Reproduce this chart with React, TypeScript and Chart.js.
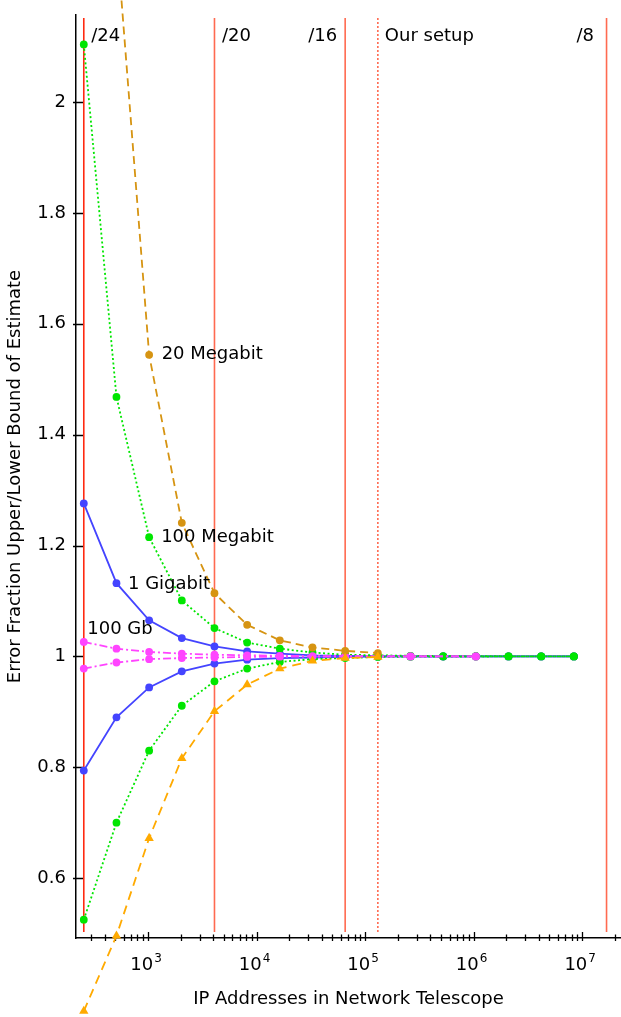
import React, { useEffect, useRef } from 'react';
import { Chart, registerables } from 'chart.js';

Chart.register(...registerables);

// ---- data ----
const addressCounts = [256, 512, 1024, 2048, 4096, 8192, 16384, 32768, 65536, 131072, 262144, 524288, 1048576, 2097152, 4194304, 8388608];

const upper20Mbit = [null, 2.3, 1.544, 1.241, 1.114, 1.057, 1.029, 1.016, 1.01, 1.006];
const lower20Mbit = [0.36, 0.496, 0.672, 0.816, 0.901, 0.949, 0.978, 0.992, 0.997, 0.999];
const upper100Mbit = [2.104, 1.468, 1.215, 1.101, 1.051, 1.025, 1.014, 1.007, 1.003, 1.002, 1.001, 1.0005, 1.0003, 1.0002, 1.0001, 1.0];
const lower100Mbit = [0.525, 0.7, 0.83, 0.911, 0.955, 0.978, 0.99, 0.995, 0.997, 0.999, 0.9995, 0.9997, 0.9998, 0.9999, 1.0, 1.0];
const upper1Gbit = [1.276, 1.132, 1.065, 1.033, 1.018, 1.009, 1.005, 1.002, 1.001, 1.0005, 1.0003, 1.0002, 1.0001, 1.0, 1.0, 1.0];
const lower1Gbit = [0.794, 0.89, 0.944, 0.973, 0.987, 0.994, 0.997, 0.998, 0.999, 0.9995, 0.9997, 0.9998, 0.9999, 1.0, 1.0, 1.0];
const upper100Gb = [1.026, 1.014, 1.008, 1.005, 1.003, 1.002, 1.001, 1.0005, 1.0003, null, 1.0001, null, 1.0];
const lower100Gb = [0.978, 0.989, 0.995, 0.997, 0.998, 0.999, 0.9995, 0.9997, 0.9998, null, 0.9999, null, 1.0];

const seriesLabels = ['20 Megabit', '100 Megabit', '1 Gigabit', '100 Gb'];

const markerValues = [256, 4096, 65536, 131072, 16777216];
const markerLabels = ['/24', '/20', '/16', 'Our setup', '/8'];

const xTickValues = [
  300, 400, 500, 600, 700, 800, 900,
  1000, 2000, 3000, 4000, 5000, 6000, 7000, 8000, 9000,
  10000, 20000, 30000, 40000, 50000, 60000, 70000, 80000, 90000,
  100000, 200000, 300000, 400000, 500000, 600000, 700000, 800000, 900000,
  1000000, 2000000, 3000000, 4000000, 5000000, 6000000, 7000000, 8000000, 9000000,
  10000000, 20000000,
];
const yTickValues = [0.6, 0.8, 1.0, 1.2, 1.4, 1.6, 1.8, 2.0];

const xTitle = 'IP Addresses in Network Telescope';
const yTitle = 'Error Fraction Upper/Lower Bound of Estimate';

// ---- styles ----
const FONT = "'DejaVu Sans', 'Liberation Sans', sans-serif";
const markerStyles = [
  { color: '#ff2a10', dash: [], side: 'right', gap: 7.5 },
  { color: '#ff6a50', dash: [], side: 'right', gap: 7.5 },
  { color: '#ff6a50', dash: [], side: 'left', gap: 8 },
  { color: '#ff6a50', dash: [2, 2], side: 'right', gap: 7 },
  { color: '#ff6a50', dash: [], side: 'left', gap: 12.5 },
];
// dataset index, point index, dx, dy for each series label
const seriesLabelAnchors = [
  { ds: 1, pt: 2, dx: 12.5, dy: 0 },
  { ds: 4, pt: 2, dx: 12, dy: 0 },
  { ds: 6, pt: 1, dx: 11.5, dy: 1 },
  { ds: 2, pt: 0, dx: 3.5, dy: -13 },
];

function exponentOf(v: number): number | null {
  const e = Math.log10(v);
  if (Math.abs(e - Math.round(e)) > 1e-9) return null;
  return Math.round(e);
}

function pts(arr: (number | null)[]) {
  return arr.map((y, i) => ({ x: addressCounts[i], y }));
}

const overlayPlugin = {
  id: 'overlay',
  beforeDatasetsDraw(chart: any) {
    const { ctx, chartArea } = chart;
    const xs = chart.scales.x;
    const ys = chart.scales.y;
    ctx.save();
    // tick marks
    ctx.strokeStyle = '#000';
    ctx.lineWidth = 1.3;
    ctx.beginPath();
    xTickValues.forEach((v) => {
      const px = Math.round(xs.getPixelForValue(v)) + 0.5;
      const major = exponentOf(v) !== null;
      ctx.moveTo(px, chartArea.bottom - (major ? 6 : 3.5));
      ctx.lineTo(px, chartArea.bottom + 3);
    });
    yTickValues.forEach((v) => {
      const py = Math.round(ys.getPixelForValue(v)) + 0.5;
      ctx.moveTo(chartArea.left - 3, py);
      ctx.lineTo(chartArea.left + 7, py);
    });
    ctx.stroke();
    // power-of-ten tick labels with raised exponent
    ctx.fillStyle = '#000';
    ctx.textBaseline = 'alphabetic';
    xTickValues.forEach((v) => {
      const e = exponentOf(v);
      if (e === null) return;
      const px = xs.getPixelForValue(v);
      ctx.font = `18px ${FONT}`;
      const wBase = ctx.measureText('10').width;
      ctx.font = `12px ${FONT}`;
      const wExp = ctx.measureText(String(e)).width;
      const start = px - (wBase + wExp + 1) / 2 - 2;
      const base = chartArea.bottom + 32;
      ctx.font = `18px ${FONT}`;
      ctx.textAlign = 'left';
      ctx.fillText('10', start, base);
      ctx.font = `12px ${FONT}`;
      ctx.fillText(String(e), start + wBase + 1, base - 8);
    });
    // vertical markers
    markerValues.forEach((v, i) => {
      const px = xs.getPixelForValue(v);
      const st = markerStyles[i];
      ctx.strokeStyle = st.color;
      ctx.lineWidth = 1.6;
      ctx.setLineDash(st.dash);
      ctx.beginPath();
      ctx.moveTo(px, chartArea.top + 3);
      ctx.lineTo(px, chartArea.bottom - 6);
      ctx.stroke();
      ctx.setLineDash([]);
      ctx.fillStyle = '#000';
      ctx.font = `18px ${FONT}`;
      ctx.textBaseline = 'middle';
      if (st.side === 'right') {
        ctx.textAlign = 'left';
        ctx.fillText(markerLabels[i], px + st.gap, chartArea.top + 21);
      } else {
        ctx.textAlign = 'right';
        ctx.fillText(markerLabels[i], px - st.gap, chartArea.top + 21);
      }
    });
    ctx.restore();
  },
  afterDatasetsDraw(chart: any) {
    const { ctx, chartArea } = chart;
    const big = { left: -1e5, top: -1e5, right: 1e5, bottom: 1e5 };
    // draw points lying outside the chart area (the library skips them)
    for (let d = chart.data.datasets.length - 1; d >= 0; d--) {
      const meta = chart.getDatasetMeta(d);
      meta.data.forEach((el: any) => {
        if (el.skip) return;
        if (el.y > chartArea.bottom + 3 || el.y < chartArea.top - 3) el.draw(ctx, big);
      });
    }
    ctx.save();
    ctx.fillStyle = '#000';
    ctx.font = `18px ${FONT}`;
    ctx.textAlign = 'left';
    ctx.textBaseline = 'middle';
    seriesLabelAnchors.forEach((a, i) => {
      const el = chart.getDatasetMeta(a.ds).data[a.pt];
      if (!el) return;
      ctx.fillText(seriesLabels[i], el.x + a.dx, el.y + a.dy);
    });
    ctx.restore();
  },
};

export default function App() {
  const ref = useRef<HTMLCanvasElement | null>(null);
  useEffect(() => {
    if (!ref.current) return;
    const common = { borderWidth: 1.8, pointRadius: 3.9, pointBorderWidth: 0, clip: false as any, spanGaps: true, tension: 0, fill: false };
    const chart = new Chart(ref.current, {
      type: 'line',
      data: {
        datasets: [
          { ...common, data: pts(lower20Mbit), borderColor: '#ffaa00', backgroundColor: '#ffaa00', borderDash: [9, 6], pointStyle: 'triangle', pointRadius: 5.4 },
          { ...common, data: pts(upper20Mbit), borderColor: '#d69412', backgroundColor: '#d69412', borderDash: [8, 5] },
          { ...common, data: pts(upper100Gb), borderColor: '#ff44ff', backgroundColor: '#ff44ff', borderDash: [8, 3, 2, 3] },
          { ...common, data: pts(lower100Gb), borderColor: '#ff44ff', backgroundColor: '#ff44ff', borderDash: [8, 3, 2, 3] },
          { ...common, data: pts(upper100Mbit), borderColor: '#00e600', backgroundColor: '#00e600', borderDash: [2, 2.5] },
          { ...common, data: pts(lower100Mbit), borderColor: '#00e600', backgroundColor: '#00e600', borderDash: [2, 2.5] },
          { ...common, data: pts(upper1Gbit), borderColor: '#4444ff', backgroundColor: '#4444ff' },
          { ...common, data: pts(lower1Gbit), borderColor: '#4444ff', backgroundColor: '#4444ff' },
        ],
      },
      options: {
        animation: false,
        responsive: true,
        maintainAspectRatio: false,
        layout: { autoPadding: false, padding: { top: 15, left: 0, right: 0, bottom: 0 } },
        plugins: { legend: { display: false }, tooltip: { enabled: false }, title: { display: false } },
        events: [],
        scales: {
          x: {
            type: 'logarithmic',
            min: 217,
            max: 2.28e7,
            bounds: 'data',
            grid: { display: false, drawTicks: false },
            border: { display: true, color: '#000', width: 1.5 },
            afterBuildTicks: (s: any) => { s.ticks = xTickValues.map((v) => ({ value: v })); },
            ticks: { display: false, autoSkip: false, maxRotation: 0, minRotation: 0 },
            title: { display: true, text: xTitle, color: '#000', font: { family: FONT, size: 18 }, padding: { top: 0, bottom: 7 } },
            afterFit: (s: any) => { s.height = 79; s.paddingLeft = 0; s.paddingRight = 0; },
          } as any,
          y: {
            type: 'linear',
            min: 0.492,
            max: 2.157,
            grid: { display: false, drawTicks: false },
            border: { display: true, color: '#000', width: 1.5 },
            afterBuildTicks: (s: any) => { s.ticks = yTickValues.map((v) => ({ value: v })); },
            ticks: {
              padding: 10, color: '#000', font: { family: FONT, size: 18 },
              callback: (v: any) => String(+Number(v).toFixed(1)),
            },
            title: { display: true, text: yTitle, color: '#000', font: { family: FONT, size: 18 }, padding: { top: 5, bottom: 0 } },
            afterFit: (s: any) => { s.width = 76; s.paddingTop = 0; s.paddingBottom = 0; },
          } as any,
        },
      },
      plugins: [overlayPlugin],
    });
    return () => chart.destroy();
  }, []);
  return (
    <div style={{ position: 'fixed', left: 0, top: 0, width: 621, height: 1017, background: '#fff' }}>
      <canvas ref={ref} />
    </div>
  );
}
